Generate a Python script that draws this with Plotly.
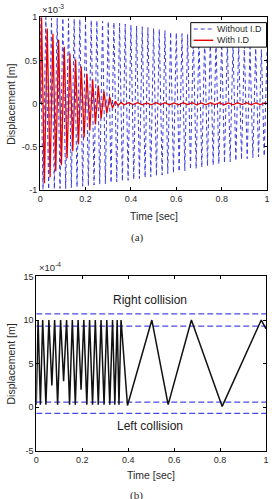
import plotly.graph_objects as go

W, H = 272, 499

# ---- (a) data, displacement in units of 1e-3 m ----
blue_t = [0.0, 0.0125, 0.025, 0.0375, 0.05, 0.0625, 0.075, 0.0875, 0.1, 0.1125,
          0.125, 0.1375, 0.15, 0.1625, 0.175, 0.1875, 0.2, 0.2125, 0.225, 0.2375,
          0.25, 0.2625, 0.275, 0.2875, 0.3, 0.3125, 0.325, 0.3375, 0.35, 0.3625,
          0.375, 0.3875, 0.4, 0.4125, 0.425, 0.4375, 0.45, 0.4625, 0.475, 0.4875,
          0.5, 0.5125, 0.525, 0.5375, 0.55, 0.5625, 0.575, 0.5875, 0.6, 0.6125,
          0.625, 0.6375, 0.65, 0.6625, 0.675, 0.6875, 0.7, 0.7125, 0.725, 0.7375,
          0.75, 0.7625, 0.775, 0.7875, 0.8, 0.8125, 0.825, 0.8375, 0.85, 0.8625,
          0.875, 0.8875, 0.9, 0.9125, 0.925, 0.9375, 0.95, 0.9625, 0.975, 0.9875,
          1.0]
blue_v = [1.00, -0.99, 1.00, -0.99, 0.99, -0.985, 0.99, -0.98, 0.99, -0.98,
          0.985, -0.97, 0.98, -0.965, 0.975, -0.955, 0.97, -0.95, 0.965, -0.94,
          0.96, -0.93, 0.955, -0.925, 0.95, -0.915, 0.94, -0.905, 0.93, -0.895,
          0.92, -0.885, 0.91, -0.875, 0.90, -0.865, 0.89, -0.855, 0.88, -0.845,
          0.87, -0.835, 0.86, -0.825, 0.845, -0.81, 0.83, -0.80, 0.82, -0.785,
          0.81, -0.775, 0.80, -0.76, 0.79, -0.75, 0.78, -0.735, 0.77, -0.72,
          0.755, -0.71, 0.74, -0.695, 0.73, -0.685, 0.715, -0.67, 0.70, -0.66,
          0.685, -0.645, 0.67, -0.635, 0.655, -0.625, 0.64, -0.615, 0.625, -0.605,
          0.61]

red_t = [0.0, 0.00625, 0.01875, 0.03125, 0.04375, 0.05625, 0.06875, 0.08125, 0.09375, 0.10625,
         0.11875, 0.13125, 0.14375, 0.15625, 0.16875, 0.18125, 0.19375, 0.20625, 0.21875, 0.23125,
         0.24375, 0.25625, 0.26875, 0.28125, 0.29375, 0.30625, 0.31875, 0.33125, 0.34375, 0.35625,
         0.37, 0.39, 0.41, 0.43, 0.45, 0.47, 0.49, 0.51, 0.53, 0.55,
         0.57, 0.59, 0.61, 0.63, 0.65, 0.67, 0.69, 0.71, 0.73, 0.75,
         0.77, 0.79, 0.81, 0.83, 0.85, 0.87, 0.89, 0.91, 0.93, 0.95,
         0.97, 0.99, 1.0]
red_v = [0.0, 1.00, -0.92, 0.87, -0.85, 0.81, -0.78, 0.74, -0.71, 0.66,
         -0.63, 0.58, -0.55, 0.51, -0.47, 0.43, -0.39, 0.35, -0.31, 0.28,
         -0.24, 0.21, -0.17, 0.14, -0.11, 0.08, -0.05, 0.03, -0.02, 0.015,
         -0.012, 0.012, -0.010, 0.012, -0.012, 0.010, -0.012, 0.012, -0.010, 0.012,
         -0.012, 0.010, -0.012, 0.012, -0.010, 0.012, -0.012, 0.010, -0.012, 0.012,
         -0.010, 0.012, -0.012, 0.010, -0.012, 0.012, -0.010, 0.012, -0.012, 0.010,
         -0.010, 0.010, 0.0]

# ---- (b) data, displacement in units of 1e-4 m ----
stop_t = [0.000, 0.008, 0.018, 0.028, 0.042, 0.055, 0.068, 0.080, 0.093, 0.106,
          0.119, 0.132, 0.145, 0.157, 0.170, 0.182, 0.195, 0.207, 0.220, 0.232,
          0.245, 0.257, 0.270, 0.282, 0.295, 0.307, 0.320, 0.332, 0.342, 0.352,
          0.360, 0.369, 0.397, 0.503, 0.574, 0.675, 0.809, 0.979, 1.000]
stop_v = [0.3, 10, 0.3, 10, 0.3, 10, 2.5, 10, 0.3, 10,
          3.0, 10, 0.3, 10, 0.3, 10, 2.0, 10, 0.3, 10,
          0.3, 10, 0.3, 10, 0.3, 10, 0.3, 10, 0.3, 10,
          0.3, 10, 0.2, 10, 0.3, 10, 0.1, 10, 9.0]
gap_lines = [10.7, 9.3, 0.6, -0.7]

x_ticks = [0, 0.2, 0.4, 0.6, 0.8, 1]
x_tick_text = ["0", "0.2", "0.4", "0.6", "0.8", "1"]
ya_ticks = [-1, -0.5, 0, 0.5, 1]
ya_tick_text = ["-1", "-0.5", "0", "0.5", "1"]
yb_ticks = [-5, 0, 5, 10, 15]
yb_tick_text = ["-5", "0", "5", "10", "15"]


def px(x):
    return x / W


def py(y):
    return 1 - y / H


FONT = "Liberation Sans, Arial, sans-serif"
TXT = "#2a2a2a"

fig = go.Figure()

fig.add_trace(go.Scatter(x=blue_t, y=blue_v, mode="lines", name="Without I.D",
                         line=dict(color="#3a3ae0", width=1, dash="4px,3px"),
                         xaxis="x", yaxis="y", showlegend=False))
fig.add_trace(go.Scatter(x=red_t, y=red_v, mode="lines", name="With I.D",
                         line=dict(color="#e60000", width=1.3),
                         xaxis="x", yaxis="y", showlegend=False))

for g in gap_lines:
    fig.add_trace(go.Scatter(x=[0, 1], y=[g, g], mode="lines",
                             line=dict(color="#4a4ae6", width=1.2, dash="6px,3px"),
                             xaxis="x2", yaxis="y2", showlegend=False))
fig.add_trace(go.Scatter(x=stop_t, y=stop_v, mode="lines",
                         line=dict(color="#111111", width=1.5),
                         xaxis="x2", yaxis="y2", showlegend=False))

axis_common = dict(showline=True, linecolor="black", linewidth=1, mirror="ticks",
                   ticks="inside", ticklen=3, tickcolor="black", showgrid=False,
                   zeroline=False, tickfont=dict(family=FONT, size=9, color=TXT))

fig.update_layout(
    width=W, height=H, autosize=False,
    margin=dict(l=0, r=0, t=0, b=0),
    paper_bgcolor="white", plot_bgcolor="white",
    showlegend=False,
    xaxis=dict(domain=[px(38), px(270)], anchor="y", range=[0, 1],
               tickvals=x_ticks, ticktext=x_tick_text, **axis_common),
    yaxis=dict(domain=[py(189), py(12.5)], anchor="x", range=[-1, 1],
               tickvals=ya_ticks, ticktext=ya_tick_text, **axis_common),
    xaxis2=dict(domain=[px(34), px(269)], anchor="y2", range=[0, 1],
                tickvals=x_ticks, ticktext=x_tick_text, **axis_common),
    yaxis2=dict(domain=[py(455), py(277)], anchor="x2", range=[-5, 15],
                tickvals=yb_ticks, ticktext=yb_tick_text, **axis_common),
)

ann = []
ann.append(dict(text="Displacement [m]", x=px(8), y=py(101), textangle=-90))
ann.append(dict(text="Displacement [m]", x=px(8), y=py(366), textangle=-90))
ann.append(dict(text="Time [sec]", x=px(154), y=py(215)))
ann.append(dict(text="Time [sec]", x=px(151.5), y=py(480)))
for a in ann:
    a.update(xref="paper", yref="paper", showarrow=False, xanchor="center",
             yanchor="middle", font=dict(family=FONT, size=10.5, color=TXT))
ann.append(dict(text="×10<sup>-3</sup>", x=px(38), y=py(12), xref="paper", yref="paper",
                showarrow=False, xanchor="left", yanchor="bottom",
                font=dict(family=FONT, size=9.5, color=TXT)))
ann.append(dict(text="×10<sup>-4</sup>", x=px(35), y=py(276), xref="paper", yref="paper",
                showarrow=False, xanchor="left", yanchor="bottom",
                font=dict(family=FONT, size=9.5, color=TXT)))
ann.append(dict(text="(a)", x=px(138), y=py(237), xref="paper", yref="paper",
                showarrow=False, xanchor="center", yanchor="middle",
                font=dict(family="Liberation Serif, Times New Roman, serif", size=11, color=TXT)))
ann.append(dict(text="(b)", x=px(137), y=py(492), xref="paper", yref="paper",
                showarrow=False, xanchor="center", yanchor="top",
                font=dict(family="Liberation Serif, Times New Roman, serif", size=11, color=TXT)))
ann.append(dict(text="Right collision", x=0.494, y=12.3, xref="x2", yref="y2",
                showarrow=False, xanchor="center", yanchor="middle",
                font=dict(family=FONT, size=12, color="#1a1a1a")))
ann.append(dict(text="Left collision", x=0.494, y=-2.2, xref="x2", yref="y2",
                showarrow=False, xanchor="center", yanchor="middle",
                font=dict(family=FONT, size=12, color="#1a1a1a")))
ann.append(dict(text="Without I.D", x=px(217), y=py(24.5), xref="paper", yref="paper",
                showarrow=False, xanchor="left", yanchor="middle",
                font=dict(family=FONT, size=9, color=TXT)))
ann.append(dict(text="With I.D", x=px(217), y=py(36), xref="paper", yref="paper",
                showarrow=False, xanchor="left", yanchor="middle",
                font=dict(family=FONT, size=9, color=TXT)))

shapes = [
    dict(type="rect", xref="paper", yref="paper", x0=px(192), x1=px(269.5),
         y0=py(43), y1=py(18), line=dict(color="black", width=1), fillcolor="white",
         layer="above"),
    dict(type="line", xref="paper", yref="paper", x0=px(195), x1=px(215),
         y0=py(24.5), y1=py(24.5), line=dict(color="#3a3ae0", width=1, dash="4px,3px")),
    dict(type="line", xref="paper", yref="paper", x0=px(195), x1=px(215),
         y0=py(36), y1=py(36), line=dict(color="#e60000", width=1.4)),
]

fig.update_layout(annotations=ann, shapes=shapes)
fig.write_html("out.html")
